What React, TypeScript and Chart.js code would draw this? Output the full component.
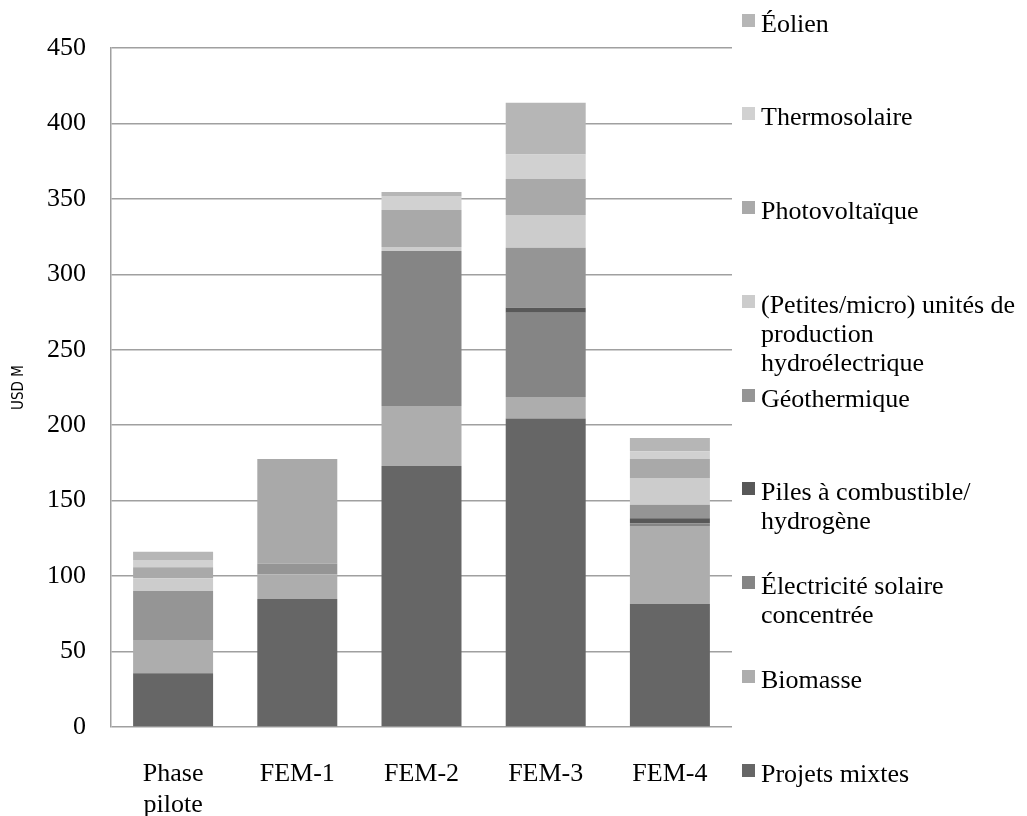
import React, { useEffect, useRef } from "react";
import { Chart, registerables } from "chart.js";

Chart.register(...registerables);

// ---- Data ----
const categories: (string | string[])[] = [["Phase", "pilote"], "FEM-1", "FEM-2", "FEM-3", "FEM-4"];

const projetsMixtes = [35.6, 84.8, 172.9, 204.5, 81.5];
const biomasse = [22.1, 16.4, 39.8, 14.2, 51.7];
const electriciteSolaire = [0, 0, 102.7, 55.9, 1.8];
const pilesCombustible = [0, 0, 0, 3.3, 3.3];
const geothermique = [32.4, 7.2, 0, 39.7, 9.0];
const petitesHydro = [8.4, 0, 2.7, 21.7, 17.7];
const photovoltaique = [7.3, 69.2, 24.5, 23.9, 12.6];
const thermosolaire = [4.9, 0, 9.3, 16.3, 5.1];
const eolien = [5.5, 0, 2.6, 34.2, 8.8];

const seriesNames = [
  "Projets mixtes",
  "Biomasse",
  "Électricité solaire\nconcentrée",
  "Piles à combustible/\nhydrogène",
  "Géothermique",
  "(Petites/micro) unités de\nproduction\nhydroélectrique",
  "Photovoltaïque",
  "Thermosolaire",
  "Éolien",
];
const seriesValues = [
  projetsMixtes,
  biomasse,
  electriciteSolaire,
  pilesCombustible,
  geothermique,
  petitesHydro,
  photovoltaique,
  thermosolaire,
  eolien,
];
const seriesColors = [
  "#666666",
  "#adadad",
  "#858585",
  "#585858",
  "#959595",
  "#cccccc",
  "#a9a9a9",
  "#d1d1d1",
  "#b6b6b6",
];

const yTicks = [0, 50, 100, 150, 200, 250, 300, 350, 400, 450];
const yTitle = "USD M";

const SERIF = "'Liberation Serif', 'Times New Roman', serif";
const NARROW = "'Liberation Sans Narrow', 'DejaVu Sans Condensed', 'Roboto Condensed', 'Liberation Sans', sans-serif";

export default function App() {
  const canvasRef = useRef<HTMLCanvasElement | null>(null);

  useEffect(() => {
    if (!canvasRef.current) return;
    const chart = new Chart(canvasRef.current, {
      type: "bar",
      data: {
        labels: categories,
        datasets: seriesNames.map((name, i) => ({
          label: name.replace(/\n/g, " "),
          data: seriesValues[i],
          backgroundColor: seriesColors[i],
          borderWidth: 0,
          barPercentage: 0.644,
          categoryPercentage: 1,
        })),
      },
      options: {
        animation: false,
        responsive: true,
        maintainAspectRatio: false,
        layout: { padding: { top: 48, right: 295, left: 0, bottom: 0 } },
        plugins: { legend: { display: false }, tooltip: { enabled: false } },
        scales: {
          x: {
            stacked: true,
            grid: { display: false, drawTicks: false },
            border: { display: false },
            ticks: {
              color: "#000",
              font: { family: SERIF, size: 26, lineHeight: 1.19 },
              padding: 32,
              maxRotation: 0,
              autoSkip: false,
            },
            afterFit: (s: any) => {
              s.height = 89;
            },
          },
          y: {
            stacked: true,
            min: 0,
            max: 450,
            afterBuildTicks: (s: any) => {
              s.ticks = yTicks.map((v) => ({ value: v }));
            },
            grid: { color: "#a0a0a0", lineWidth: 1.5, drawTicks: false },
            border: { display: true, color: "#a0a0a0", width: 1.5 },
            ticks: {
              color: "#000",
              font: { family: SERIF, size: 26 },
              padding: 25,
            },
            title: {
              display: true,
              text: yTitle,
              color: "#000",
              font: { family: NARROW, size: 15 },
              padding: { top: 10, bottom: 0 },
            },
            afterFit: (s: any) => {
              s.width = 111;
            },
          },
        },
      },
    });
    return () => chart.destroy();
  }, []);

  const legendOrder = seriesNames.map((_, i) => i).reverse();

  return (
    <div style={{ position: "absolute", left: 0, top: 0, width: 1027, height: 816, background: "#fff", overflow: "hidden" }}>
      <canvas ref={canvasRef} style={{ position: "absolute", left: 0, top: 0, width: 1027, height: 816 }} />
      {legendOrder.map((si, k) => {
        const cy = 20 + k * 93.75;
        return (
          <div key={si} style={{ position: "absolute", left: 742, top: cy - 6.5, width: 285 }}>
            <div
              style={{
                position: "absolute",
                left: 0,
                top: 0,
                width: 13,
                height: 13,
                background: seriesColors[si],
              }}
            />
            <div
              style={{
                position: "absolute",
                left: 19,
                top: 6.5 + 3 - 14.5,
                whiteSpace: "pre",
                fontFamily: SERIF,
                fontSize: 26,
                lineHeight: "29px",
                color: "#000",
              }}
            >
              {seriesNames[si]}
            </div>
          </div>
        );
      })}
    </div>
  );
}
